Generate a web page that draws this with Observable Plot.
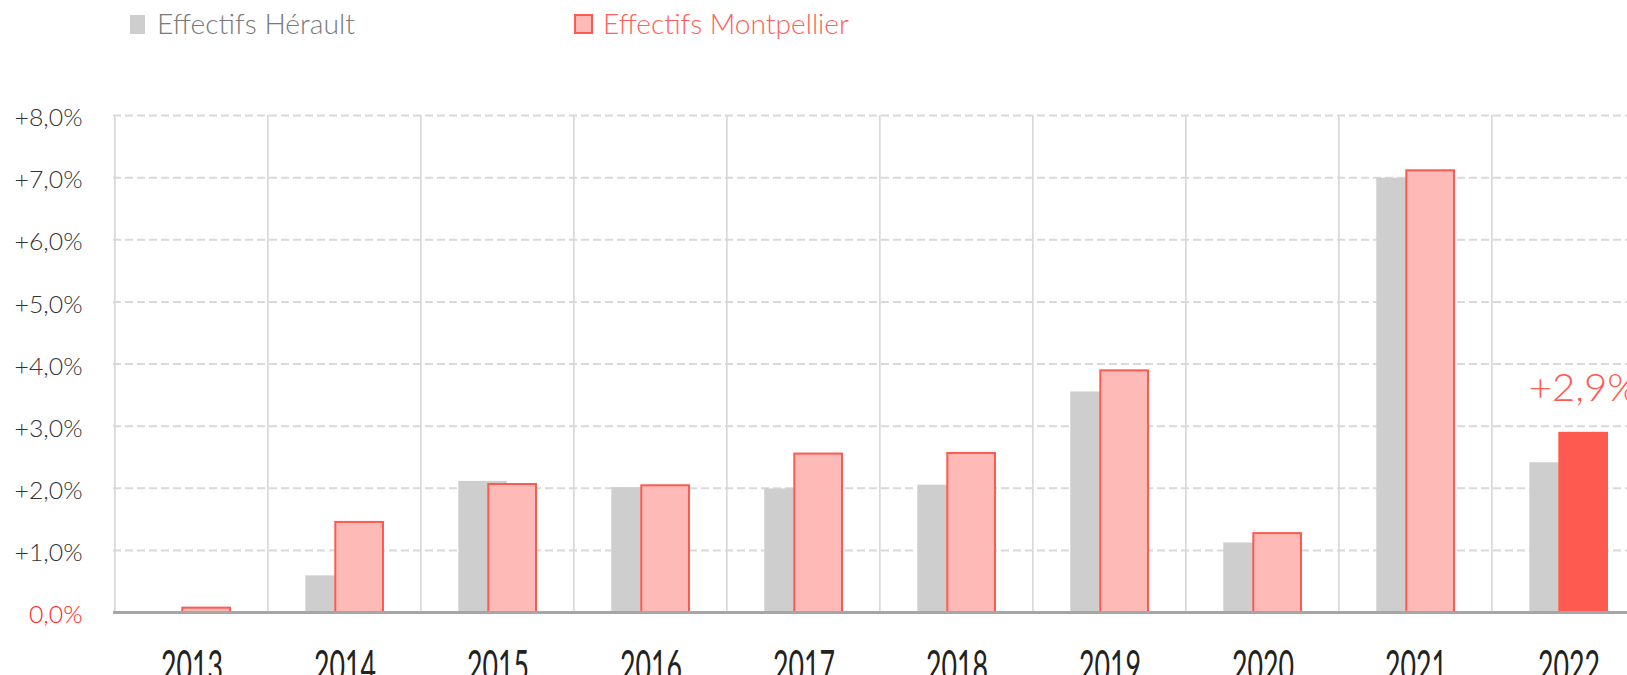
<!DOCTYPE html>
<html>
<head>
<meta charset="utf-8">
<script src="https://cdn.jsdelivr.net/npm/d3@7"></script>
<script src="https://cdn.jsdelivr.net/npm/@observablehq/plot@0.6"></script>
<style>
  html, body { margin: 0; padding: 0; background: #fff; overflow: hidden; }
  #legend { position: relative; width: 1627px; height: 50px; font-family: Lato, "Open Sans", sans-serif; font-weight: 300; }
  .sw { position: absolute; box-sizing: border-box; }
  .lt { position: absolute; white-space: nowrap; transform-origin: 0 0; font-size: 28px; line-height: 1; }
</style>
</head>
<body>
<div id="legend"></div>
<div id="chart"></div>
<script>
// ---- data ----
const years = [2013, 2014, 2015, 2016, 2017, 2018, 2019, 2020, 2021, 2022];
const yearLabels = ["2013", "2014", "2015", "2016", "2017", "2018", "2019", "2020", "2021", "2022"];
const herault = [0.0, 0.59, 2.11, 2.01, 1.99, 2.05, 3.55, 1.12, 6.99, 2.41];
const montpellier = [0.07, 1.45, 2.06, 2.04, 2.55, 2.56, 3.89, 1.27, 7.11, 2.90];
const seriesNames = ["Effectifs Hérault", "Effectifs Montpellier"];
const highlightYear = 2022;
const highlightLabel = "+2,9%";
const yTicks = [0, 1, 2, 3, 4, 5, 6, 7, 8];
const yTickLabels = ["0,0%", "+1,0%", "+2,0%", "+3,0%", "+4,0%", "+5,0%", "+6,0%", "+7,0%", "+8,0%"];

// ---- colours ----
const grayFill = "#cfcecf";
const pinkFill = "#fdbab6";
const red = "#ff5a50";
const gridColor = "#d9d9d9";

// ---- legend (HTML above the SVG) ----
const legend = document.getElementById("legend");
const legendItems = [
  {name: seriesNames[0], sw: {left: 130, top: 15, w: 15, h: 19, bg: grayFill, border: "none"}, textLeft: 157, color: "#7a7a7a", target: 198},
  {name: seriesNames[1], sw: {left: 574, top: 14, w: 19, h: 20, bg: pinkFill, border: `2px solid ${red}`}, textLeft: 603, color: "#ff605a", target: 246}
];
for (const it of legendItems) {
  const s = document.createElement("div");
  s.className = "sw";
  Object.assign(s.style, {left: it.sw.left + "px", top: it.sw.top + "px", width: it.sw.w + "px", height: it.sw.h + "px", background: it.sw.bg, border: it.sw.border});
  legend.appendChild(s);
  const t = document.createElement("span");
  t.className = "lt";
  t.textContent = it.name;
  Object.assign(t.style, {left: it.textLeft + "px", top: "9px", color: it.color});
  legend.appendChild(t);
  const w = t.getBoundingClientRect().width;
  t.style.transform = `scaleX(${it.target / w})`;
}

// ---- table ----
const table = years.map((year, i) => ({year, herault: herault[i], montpellier: montpellier[i]}));

// ---- layout ----
const W = 1627, H = 625;
const x0 = 113, x1 = 1646;
const bw = (x1 - x0) / years.length;
const yFmt = d => yTickLabels[yTicks.indexOf(d)];

const chart = Plot.plot({
  width: W,
  height: H,
  marginLeft: x0,
  marginRight: 0,
  marginTop: 65,
  marginBottom: 63,
  style: {fontFamily: "Lato, 'Open Sans', sans-serif", fontWeight: 300, background: "#fff", maxWidth: "none"},
  x: {type: "band", domain: years, range: [x0, x1], padding: 0, label: null},
  y: {domain: [0, 8], label: null},
  marks: [
    // dashed horizontal grid
    Plot.ruleY(yTicks.filter(d => d > 0), {stroke: gridColor, strokeWidth: 2, strokeDasharray: "8,4"}),
    // vertical grid at band boundaries
    Plot.barY(years, {x: d => d, y1: 0, y2: 8, fill: gridColor, insetLeft: -1, insetRight: bw - 1}),
    // Hérault bars
    Plot.barY(table, {x: "year", y: "herault", fill: grayFill, insetLeft: 37.3, insetRight: bw - 86}),
    // Montpellier bars
    Plot.barY(table.filter(d => d.year !== highlightYear), {x: "year", y: "montpellier", fill: pinkFill, stroke: red, strokeWidth: 2, insetLeft: 67.3, insetRight: bw - 115.3, ariaLabel: "montpellier"}),
    Plot.barY(table.filter(d => d.year === highlightYear), {x: "year", y: "montpellier", fill: red, insetLeft: 66.3, insetRight: bw - 116.3, ariaLabel: "montpellier-highlight"}),
    // baseline
    Plot.ruleY([0], {stroke: "#a6a6a6", strokeWidth: 3}),
    // axes
    Plot.axisY(yTicks.filter(d => d > 0), {tickSize: 0, tickPadding: 31, fontSize: 24, fill: "#333", dy: 3, label: null, tickFormat: yFmt}),
    Plot.axisY([0], {tickSize: 0, tickPadding: 31, fontSize: 24, fill: "#ff2424", dy: 3, label: null, tickFormat: yFmt}),
    Plot.axisX({tickSize: 0, tickPadding: 38, fontSize: 44, fill: "#222", fontWeight: 400, label: null, tickFormat: d => yearLabels[years.indexOf(d)]}),
    // highlight label
    Plot.text(table.filter(d => d.year === highlightYear), {x: "year", y: "montpellier", text: () => highlightLabel, dx: (66.3 + 116.3) / 2 - bw / 2, dy: -44, fontSize: 38, fill: red})
  ]
});
document.getElementById("chart").appendChild(chart);

const svg = d3.select(chart);
svg.selectAll('g[aria-label="montpellier"], g[aria-label="montpellier-highlight"]')
  .style("filter", "drop-shadow(4px 2px 3px rgba(0,0,0,0.35))");
// condensed year labels
svg.selectAll("text").filter(function() { return yearLabels.includes(this.textContent); })
  .attr("textLength", 62).attr("lengthAdjust", "spacingAndGlyphs");
// y labels to reference proportions
const yTexts = svg.selectAll("text").filter(function() { return yTickLabels.includes(this.textContent); });
let ref = null;
yTexts.each(function() { if (this.textContent === "+8,0%") ref = this.getComputedTextLength(); });
const k = ref ? 68 / ref : 1;
yTexts.each(function() { const l = this.getComputedTextLength(); d3.select(this).attr("textLength", l * k).attr("lengthAdjust", "spacingAndGlyphs"); });
svg.selectAll("text").filter(function() { return this.textContent === highlightLabel; })
  .attr("textLength", 110).attr("lengthAdjust", "spacingAndGlyphs");
</script>
</body>
</html>
